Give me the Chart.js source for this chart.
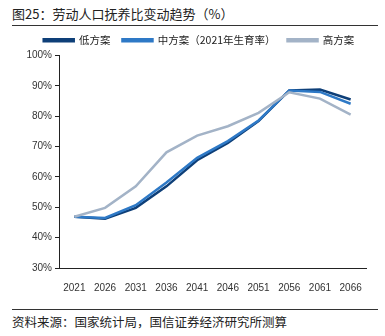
<!DOCTYPE html>
<html>
<head>
<meta charset="utf-8">
<script src="https://cdn.jsdelivr.net/npm/chart.js@4/dist/chart.umd.min.js"></script>
<style>
  body { margin: 0; background: #fff; font-family: "Noto Sans CJK SC", sans-serif; }
  #wrap { position: relative; width: 385px; height: 336px; }
  #title { position: absolute; left: 12px; top: 4px; font-size: 13px; color: #222; }
  .rule { position: absolute; left: 12px; width: 366px; height: 1px; background: #333; }
  #box { position: absolute; left: 0; top: 23px; width: 385px; height: 277px; }
  #source { position: absolute; left: 12px; top: 312px; font-size: 12.5px; color: #222; }
</style>
</head>
<body>
<div id="wrap">
  <div id="title">图25：劳动人口抚养比变动趋势（%）</div>
  <div class="rule" style="top:25px"></div>
  <div id="box"><canvas id="chart"></canvas></div>
  <div class="rule" style="top:309px"></div>
  <div id="source">资料来源：国家统计局，国信证券经济研究所测算</div>
</div>
<script>
const years = ["2021", "2026", "2031", "2036", "2041", "2046", "2051", "2056", "2061", "2066"];
const lowPlan = [46.9, 46.2, 49.8, 56.9, 65.5, 71.2, 78.4, 88.5, 88.8, 85.5];
const midPlan = [46.9, 46.5, 50.7, 58.2, 66.3, 71.8, 78.6, 88.5, 88.0, 84.1];
const highPlan = [46.9, 49.8, 56.9, 68.1, 73.6, 76.7, 81.1, 87.9, 85.8, 80.5];

function series(label, data, color) {
  return {
    label: label,
    data: data,
    borderColor: color,
    backgroundColor: color,
    borderWidth: 2.5,
    pointRadius: 0,
    tension: 0,
    fill: false
  };
}

// nudge the legend a little right from where the layout centres it
const legendShift = {
  id: "legendShift",
  afterLayout(chart) {
    const lg = chart.legend;
    lg.left += 16; lg.right += 16;
  }
};

document.addEventListener("DOMContentLoaded", () => {
  const ctx = document.getElementById("chart").getContext("2d");
  new Chart(ctx, {
    type: "line",
    data: {
      labels: years,
      datasets: [
        series("高方案", highPlan, "#a3b3c7"),
        series("中方案（2021年生育率）", midPlan, "#2e79c6"),
        series("低方案", lowPlan, "#0e3f78")
      ]
    },
    plugins: [legendShift],
    options: {
      responsive: true,
      maintainAspectRatio: false,
      animation: false,
      layout: { padding: { left: 0, right: 19, top: 0, bottom: 0 } },
      plugins: {
        tooltip: { enabled: false },
        legend: {
          display: true,
          reverse: true,
          labels: {
            boxWidth: 30,
            boxHeight: 2,
            padding: 12,
            color: "#222",
            font: { family: "Noto Sans CJK SC", size: 10.5 }
          }
        }
      },
      scales: {
        x: {
          offset: true,
          grid: { display: false },
          border: { display: true, color: "#222", width: 1 },
          ticks: {
            color: "#333",
            padding: 6,
            maxRotation: 0,
            font: { family: "Liberation Sans", size: 10 }
          }
        },
        y: {
          min: 30,
          max: 100,
          afterFit: scale => { scale.width = 59; },
          grid: { display: true, drawOnChartArea: false, drawTicks: true, tickLength: 4, color: "#222" },
          border: { display: true, color: "#222", width: 1 },
          ticks: {
            stepSize: 10,
            color: "#333",
            padding: 3,
            font: { family: "Liberation Sans", size: 10 },
            callback: v => v + "%"
          }
        }
      }
    }
  });
});
</script>
</body>
</html>
